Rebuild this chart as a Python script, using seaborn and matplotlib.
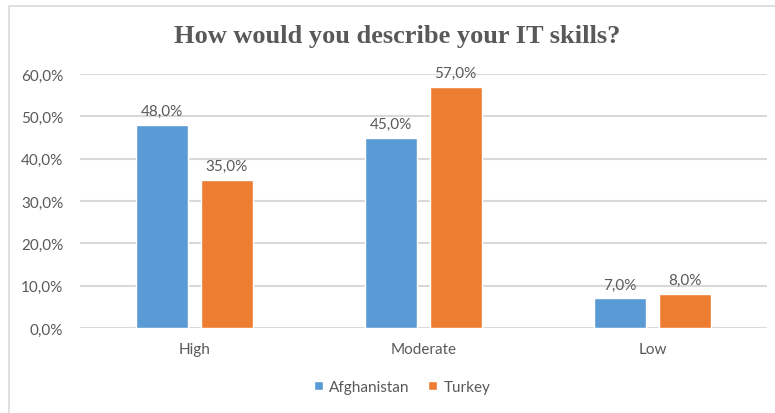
import matplotlib
matplotlib.use("Agg")
import matplotlib.pyplot as plt
from matplotlib.patches import Rectangle
from matplotlib.ticker import FuncFormatter
import seaborn as sns
import pandas as pd

# Survey answers, in percent
levels = ["High", "Moderate", "Low"]
countries = ["Afghanistan", "Turkey"]
afghanistan = [48.0, 45.0, 7.0]
turkey = [35.0, 57.0, 8.0]
y_ticks = [0, 10, 20, 30, 40, 50, 60]

df = pd.DataFrame({
    "level": levels * 2,
    "pct": afghanistan + turkey,
    "country": [countries[0]] * 3 + [countries[1]] * 3,
})

sns.set_theme(style="white")
plt.rcParams["font.family"] = ["Lato", "DejaVu Sans"]

TEXT = "#595959"
GRID = "#d9d9d9"
BLUE = "#5b9bd5"
ORANGE = "#ed7d31"

fig = plt.figure(figsize=(7.75, 4.14), dpi=100)
ax = fig.add_axes([80 / 775, 85 / 414, 687 / 775, 254 / 414])

sns.barplot(data=df, x="level", y="pct", hue="country", order=levels,
            hue_order=countries, palette=[BLUE, ORANGE], width=0.563,
            gap=0.2, saturation=1, ax=ax, zorder=3)

for cont in ax.containers:
    ax.bar_label(cont, labels=[f"{v:.1f}%".replace(".", ",") for v in cont.datavalues],
                 padding=5, fontsize=11, color=TEXT)

ax.set_ylim(0, 60)
ax.set_xlim(-0.5, 2.5)
ax.set_yticks(y_ticks)
ax.yaxis.set_major_formatter(FuncFormatter(lambda v, _: f"{v:.1f}%".replace(".", ",")))
ax.grid(axis="y", color=GRID, linewidth=1.5, zorder=0)
ax.set_axisbelow(True)
for s in ax.spines.values():
    s.set_visible(False)
ax.tick_params(axis="both", length=0, labelsize=11, labelcolor=TEXT)
ax.tick_params(axis="y", pad=12)
ax.tick_params(axis="x", pad=10)
ax.set_xlabel("")
ax.set_ylabel("")

handles, labels = ax.get_legend_handles_labels()
ax.legend(handles, labels, loc="center", bbox_to_anchor=(402 / 775, 1 - 388 / 414),
          bbox_transform=fig.transFigure, ncol=2, frameon=False, fontsize=11,
          labelcolor=TEXT, handlelength=0.6, handleheight=0.6, handletextpad=0.4,
          columnspacing=1.2)

fig.text(397 / 775, 1 - 37 / 414, "How would you describe your IT skills?",
         ha="center", va="center", fontsize=19, fontweight="bold",
         family=["Liberation Serif", "DejaVu Serif"], color=TEXT)

# outer chart frame
fig.patches.append(Rectangle((9 / 775, -0.1), 1.0, 1 - 7 / 414 + 0.1,
                             transform=fig.transFigure, fill=False,
                             edgecolor=GRID, linewidth=1.2))

fig.savefig("out.png", dpi=100, facecolor="white")
